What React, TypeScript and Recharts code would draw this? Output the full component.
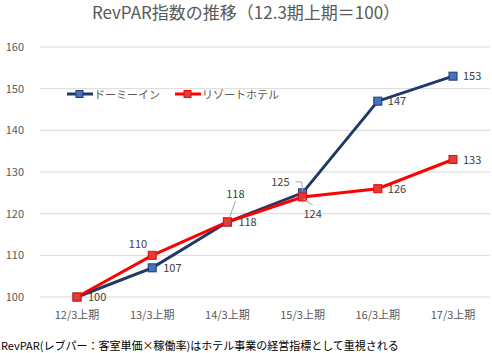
import { LineChart, Line, XAxis, YAxis, CartesianGrid, Legend } from 'recharts';

const periods = ['12/3上期', '13/3上期', '14/3上期', '15/3上期', '16/3上期', '17/3上期'];
const dormyInn = [100, 107, 118, 125, 147, 153];
const resortHotel = [100, 110, 118, 124, 126, 133];
const yTicks = [100, 110, 120, 130, 140, 150, 160];

const data = periods.map((p, i) => ({ period: p, dormy: dormyInn[i], resort: resortHotel[i] }));

const FONT = '"Noto Sans CJK JP", "Noto Sans", sans-serif';
const NAVY = '#1F3864';
const RED = '#FF0000';

// label placement per point: dx, dy, anchor, optional leader line
type Place = { dx: number; dy: number; anchor?: string; leader?: number[][]; hide?: boolean };

const dormyPlace: Place[] = [
  { dx: 11, dy: 4 },
  { dx: 11, dy: 4 },
  { dx: 11, dy: 4 },
  { dx: -13, dy: -7, anchor: 'end', leader: [[-7, -11], [-1, -11], [0, -2]] },
  { dx: 10, dy: 4 },
  { dx: 10, dy: 4 },
];
const resortPlace: Place[] = [
  { dx: 0, dy: 0, hide: true },
  { dx: -5, dy: -7, anchor: 'end' },
  { dx: 8, dy: -24, anchor: 'middle', leader: [[8, -21], [2, -4]] },
  { dx: 10, dy: 21, anchor: 'middle', leader: [[1, 2], [10, 8]] },
  { dx: 10, dy: 4 },
  { dx: 10, dy: 4 },
];

function makeLabel(places: Place[]) {
  return (props: any) => {
    const { x, y, value, index } = props;
    const p = places[index];
    if (!p || p.hide) return null;
    return (
      <g>
        {p.leader && (
          <polyline
            points={p.leader.map(([a, b]) => `${x + a},${y + b}`).join(' ')}
            fill="none"
            stroke="#a6a6a6"
            strokeWidth={1}
          />
        )}
        <text x={x + p.dx} y={y + p.dy} textAnchor={p.anchor || 'start'} fontSize={11} fill="#404040" fontFamily={FONT}>
          {value}
        </text>
      </g>
    );
  };
}

function LegendBox() {
  const items = [
    { name: 'ドーミーイン', color: NAVY, fill: '#4472C4' },
    { name: 'リゾートホテル', color: RED, fill: '#D9403A' },
  ];
  return (
    <div style={{ display: 'flex', gap: 14, fontFamily: FONT, fontSize: 11, color: '#595959' }}>
      {items.map((it) => (
        <div key={it.name} style={{ display: 'flex', alignItems: 'center' }}>
          <svg width={28} height={10}>
            <line x1={1} y1={5} x2={27} y2={5} stroke={it.color} strokeWidth={3} />
            <rect x={10} y={1.5} width={7} height={7} fill={it.fill} stroke={it.color} strokeWidth={1} />
          </svg>
          <span>{it.name}</span>
        </div>
      ))}
    </div>
  );
}

export default function App() {
  return (
    <div style={{ position: 'absolute', left: 0, top: 0, width: 492, height: 353, background: '#fff', fontFamily: FONT, overflow: 'hidden' }}>
      <div style={{ position: 'absolute', top: 0, left: 0, width: 492, textAlign: 'center', fontSize: 17, color: '#595959', lineHeight: '24px' }}>
        RevPAR指数の推移（12.3期上期＝100）
      </div>
      <div style={{ position: 'absolute', top: 0, left: 0 }}>
        <LineChart width={492} height={330} data={data} margin={{ top: 31, right: 2, bottom: 8, left: 0 }}>
          <CartesianGrid vertical={false} stroke="#d9d9d9" />
          <XAxis
            dataKey="period"
            axisLine={false}
            tickLine={false}
            height={25}
            padding={{ left: 37, right: 37 }}
            tick={{ fontSize: 11, fill: '#595959', fontFamily: FONT }}
            tickMargin={8}
          />
          <YAxis
            domain={[100, 160]}
            ticks={yTicks}
            width={40}
            axisLine={false}
            tickLine={false}
            tick={{ fontSize: 11, fill: '#595959', fontFamily: FONT }}
            tickMargin={10}
          />
          <Legend
            verticalAlign="top"
            align="left"
            wrapperStyle={{ top: 86, left: 66, width: 'auto' }}
            content={() => <LegendBox />}
          />
          <Line
            dataKey="dormy"
            name="ドーミーイン"
            stroke={NAVY}
            strokeWidth={3}
            isAnimationActive={false}
            dot={false}
            label={makeLabel(dormyPlace)}
          />
          <Line
            dataKey="resort"
            name="リゾートホテル"
            stroke={RED}
            strokeWidth={3}
            isAnimationActive={false}
            dot={false}
            label={makeLabel(resortPlace)}
          />
          <Line dataKey="dormy" stroke="none" legendType="none" isAnimationActive={false} activeDot={false}
            dot={(p: any) => <rect key={`d${p.index}`} x={p.cx - 4} y={p.cy - 4} width={8} height={8} fill="#4472C4" stroke={NAVY} strokeWidth={1} />} />
          <Line dataKey="resort" stroke="none" legendType="none" isAnimationActive={false} activeDot={false}
            dot={(p: any) => <rect key={`r${p.index}`} x={p.cx - 4} y={p.cy - 4} width={8} height={8} fill="#D9403A" stroke={RED} strokeWidth={1} />} />
        </LineChart>
      </div>
      <div style={{ position: 'absolute', top: 339, left: 1, fontSize: 11, color: '#000', lineHeight: '13px', whiteSpace: 'nowrap' }}>
        RevPAR(レブパー：客室単価×稼働率)はホテル事業の経営指標として重視される
      </div>
    </div>
  );
}
